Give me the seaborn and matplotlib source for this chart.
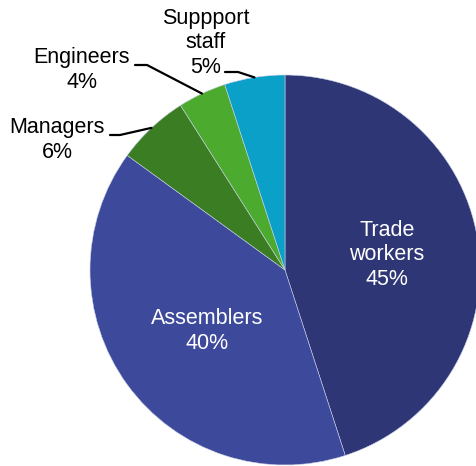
import numpy as np
import matplotlib
matplotlib.use("Agg")
import matplotlib.pyplot as plt
import seaborn as sns

sns.set_style("white")
plt.rcParams["font.family"] = ["Liberation Sans", "DejaVu Sans"]

categories = ["Trade\nworkers", "Assemblers", "Managers", "Engineers", "Suppport\nstaff"]
shares = [45, 40, 6, 4, 5]
colors = ["#2E3675", "#3D4A9C", "#3A7D22", "#4CAB2F", "#0AA0C8"]

W, H = 476, 466
fig = plt.figure(figsize=(W / 100, H / 100), dpi=100)
cx, cy, r = 285, 270, 195
ax = fig.add_axes([(cx - r) / W, (H - cy - r) / H, 2 * r / W, 2 * r / H])

wedges, _ = ax.pie(shares, colors=colors, startangle=90, counterclock=False,
                   radius=1.0, wedgeprops=dict(edgecolor="#C8D0E8", linewidth=0.4))
ax.set_xlim(-1, 1)
ax.set_ylim(-1, 1)
ax.set_aspect("auto")
ax.axis("off")


def px(x, y):
    return (x - cx) / r, (cy - y) / r


fs = 15.5
# labels inside the two large wedges
inside = {0: (387, 255), 1: (207, 331)}
for i, (x, y) in inside.items():
    tx, ty = px(x, y)
    ax.text(tx, ty, f"{categories[i]}\n{shares[i]}%", ha="center", va="center",
            color="white", fontsize=fs, linespacing=1.22)

# labels outside the small wedges, with elbow leader lines
outside = {
    2: ((57, 140), (110, 135), (120, 135)),
    3: ((82, 70), (135, 65), (147, 65)),
    4: ((206, 43), (225, 72), (238, 72)),
}
for i, ((x, y), (lx0, ly0), (lx1, ly1)) in outside.items():
    tx, ty = px(x, y)
    ax.text(tx, ty, f"{categories[i]}\n{shares[i]}%", ha="center", va="center",
            color="black", fontsize=fs, linespacing=1.22)
    w = wedges[i]
    mid = np.deg2rad((w.theta1 + w.theta2) / 2)
    ex, ey = np.cos(mid) * 1.0, np.sin(mid) * 1.0
    a = px(lx0, ly0)
    b = px(lx1, ly1)
    ax.plot([a[0], b[0], ex], [a[1], b[1], ey], color="black", lw=1.6,
            clip_on=False, solid_joinstyle="miter")

fig.savefig("out.png", dpi=100)
